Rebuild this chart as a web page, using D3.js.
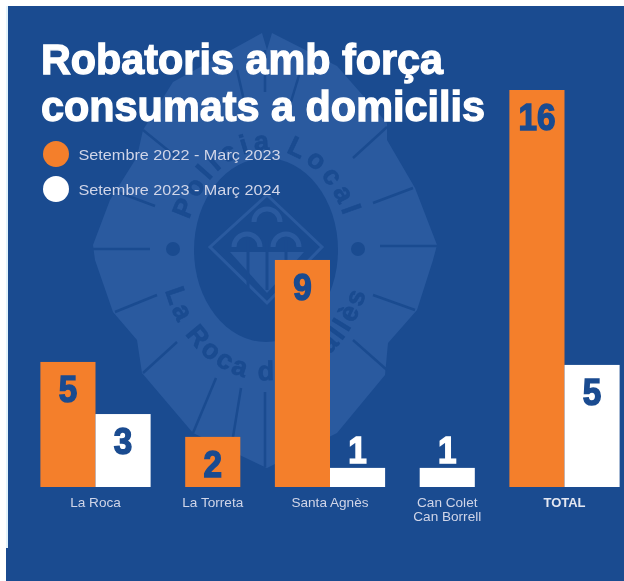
<!DOCTYPE html>
<html>
<head>
<meta charset="utf-8">
<script src="https://cdnjs.cloudflare.com/ajax/libs/d3/7.8.5/d3.min.js"></script>
<style>
html,body{margin:0;padding:0;background:#fff;}
svg{display:block;filter:blur(0.45px);}
text{font-family:"Liberation Sans",Arial,sans-serif;}
</style>
</head>
<body>
<div id="chart"></div>
<script>
var categories = ['La Roca','La Torreta','Santa Agnès','Can Colet|Can Borrell','TOTAL'];
var seriesNames = ['Setembre 2022 - Març 2023','Setembre 2023 - Març 2024'];
// printed numbers
var labels2023 = [5,2,9,null,16];
var labels2024 = [3,null,1,1,5];
// bar lengths as drawn (the picture does not draw them strictly to scale)
var bars2023 = [5.04,2.02,9.15,null,16];
var bars2024 = [2.94,null,0.77,0.77,4.92];

var W = 624, H = 581;
var bg = '#1a4b90', orange = '#f47f2b', light = '#2a5a9f';

var svg = d3.select('#chart').append('svg').attr('width',W).attr('height',H);

//panel
svg.append('rect').attr('x',8).attr('y',6).attr('width',W-8).attr('height',H-6).attr('fill',bg);
svg.append('rect').attr('x',6).attr('y',6).attr('width',2).attr('height',542).attr('fill','#e3f3fb');
svg.append('rect').attr('x',6).attr('y',548).attr('width',2).attr('height',33).attr('fill',bg);

//badge watermark
var badge = svg.append('g');
var outline = [[262,33],[267,50],[272,33],[337,66],[387,123],[387,140],[415,188],[437,245],[433,260],[417,310],[388,343],[385,375],[337,433],[267,468],[193,433],[142,373],[137,340],[113,312],[95,260],[93,245],[110,200],[137,157],[143,130],[173,82]];
badge.append('path').attr('d',d3.line()(outline)+'Z').attr('fill',light);
var spokes = [[93,249,150,249],[380,246,437,246],[353,158,387,127],[373,203,413,188],[373,295,415,310],[353,340,387,370],
  [115,312,157,295],[143,373,177,342],[193,433,216,378],[233,437,241,388],[265,467,265,392],[112,190,155,206],[143,130,180,160],
  [237,70,245,105],[265,50,265,92],[300,72,290,105]];
badge.selectAll('line').data(spokes).enter().append('line')
  .attr('x1',function(d){return d[0];}).attr('y1',function(d){return d[1];})
  .attr('x2',function(d){return d[2];}).attr('y2',function(d){return d[3];})
  .attr('stroke',bg).attr('stroke-width',2.5);
badge.append('circle').attr('cx',173).attr('cy',249).attr('r',7).attr('fill',bg);
badge.append('circle').attr('cx',358).attr('cy',249).attr('r',7).attr('fill',bg);
badge.append('ellipse').attr('cx',266).attr('cy',250).attr('rx',72).attr('ry',92).attr('fill',bg);

//shield inside the oval
badge.append('path').attr('d','M267 195L322 247L267 303L210 247Z').attr('fill','none').attr('stroke',light).attr('stroke-width',3);
badge.append('path').attr('d','M230 252L304 252L267 293Z').attr('fill',light);
[[267,222],[247,247],[286,247]].forEach(function(a){
  badge.append('path').attr('d','M'+(a[0]-13)+' '+a[1]+'A13 13 0 0 1 '+(a[0]+13)+' '+a[1]).attr('fill','none').attr('stroke',light).attr('stroke-width',5);
});
[248,267,286].forEach(function(xx){
  badge.append('line').attr('x1',xx).attr('x2',xx).attr('y1',240).attr('y2',290).attr('stroke',bg).attr('stroke-width',3);
});

//arc lettering
var defs = svg.append('defs');
defs.append('path').attr('id','arcTop').attr('d','M183 262A84 112 0 0 1 351 262');
defs.append('path').attr('id','arcBottom').attr('d','M160 250A106 130 0 0 0 372 250');
function arcText(id,s,spacing){
  badge.append('text').attr('fill',bg).attr('stroke',bg).attr('stroke-width',0.7)
    .style('font-weight',700).style('font-size','27px').style('letter-spacing',spacing+'px')
    .append('textPath').attr('href','#'+id).attr('startOffset','50%').attr('text-anchor','middle').text(s);
}
arcText('arcTop','Policia Local',4.5);
arcText('arcBottom','La Roca del Vallès',3);

//title
var title = svg.append('g').attr('fill','#fff').attr('stroke','#fff').attr('stroke-width',1.3).style('font-weight',700).style('font-size','43px');
title.append('text').attr('x',41).attr('y',73.5).attr('textLength',402).attr('lengthAdjust','spacingAndGlyphs').text('Robatoris amb força');
title.append('text').attr('x',41).attr('y',121).attr('textLength',444).attr('lengthAdjust','spacingAndGlyphs').text('consumats a domicilis');

//legend
[orange,'#fff'].forEach(function(c,i){
  var yy = 154 + i*35;
  svg.append('circle').attr('cx',56).attr('cy',yy).attr('r',13).attr('fill',c);
  svg.append('text').attr('x',78.5).attr('y',yy+6).attr('fill','#d0d5e8').style('font-size','15px')
    .attr('textLength',202).attr('lengthAdjust','spacingAndGlyphs').text(seriesNames[i]);
});

//scales
var x = d3.scalePoint().domain(categories).range([95.5,564.5]);
var y = d3.scaleLinear().domain([0,16]).range([487,90]);
var barW = x.step()*0.47;

function offset(i,own,other){
  if(other[i]===null) return -barW/2;
  return own===bars2023 ? -barW : 0;
}

function drawSeries(vals,other,labs,color,numColor){
  var rows = categories.map(function(c,i){return {c:c,v:vals[i],l:labs[i],i:i};}).filter(function(d){return d.v!==null;});
  svg.selectAll(null).data(rows).enter().append('rect')
    .attr('x',function(d){return x(d.c)+offset(d.i,vals,other);})
    .attr('y',function(d){return y(d.v);})
    .attr('width',barW)
    .attr('height',function(d){return y(0)-y(d.v);})
    .attr('fill',color);
  svg.selectAll(null).data(rows).enter().append('text')
    .attr('x',function(d){return x(d.c)+offset(d.i,vals,other)+barW/2;})
    .attr('y',function(d){return d.v<1 ? y(d.v)-5 : y(d.v)+40;})
    .attr('text-anchor','middle')
    .attr('fill',function(d){return d.v<1 ? '#fff' : numColor;})
    .attr('stroke',function(d){return d.v<1 ? '#fff' : numColor;})
    .attr('stroke-width',1.5)
    .style('font-weight',700).style('font-size','37px')
    .attr('textLength',function(d){return String(d.l).length*18.5;})
    .attr('lengthAdjust','spacingAndGlyphs')
    .text(function(d){return d.l;});
}
drawSeries(bars2023,bars2024,labels2023,orange,bg);
drawSeries(bars2024,bars2023,labels2024,'#fff',bg);

//category labels
categories.forEach(function(c){
  var t = svg.append('text').attr('text-anchor','middle').attr('fill','#d0d5e8').style('font-size','13.6px');
  c.split('|').forEach(function(s,j){
    t.append('tspan').attr('x',x(c)).attr('y',507+j*14).text(s);
  });
  if(c==='TOTAL') t.attr('fill','#e4e7f1').style('font-weight',700).style('font-size','13px');
});
</script>
</body>
</html>
